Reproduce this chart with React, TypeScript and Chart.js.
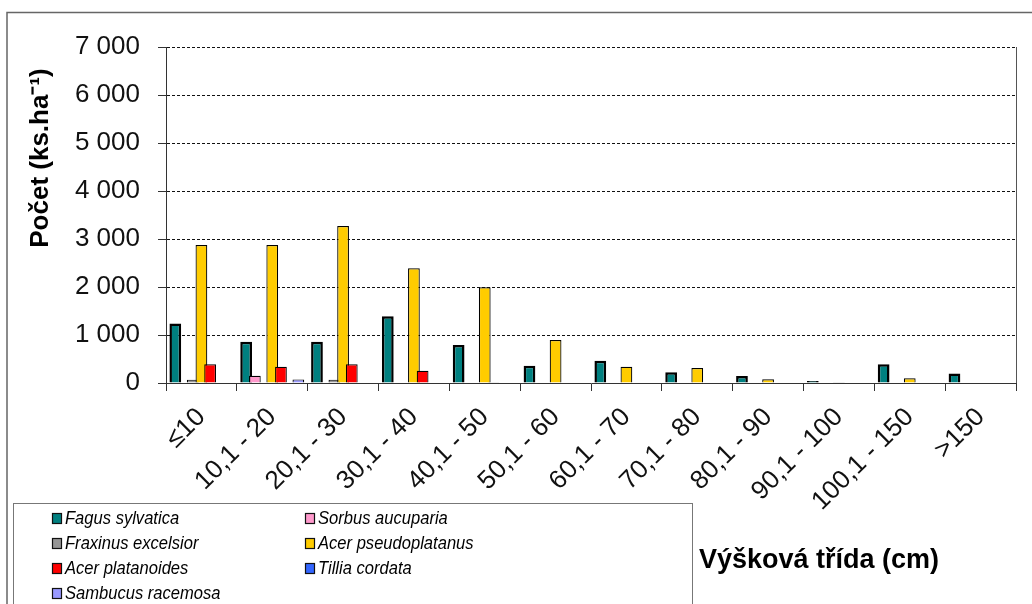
import React, { useEffect, useRef } from "react";
import { Chart, registerables } from "chart.js";

Chart.register(...registerables);

const categories = [
  "≤10", "10,1 - 20", "20,1 - 30", "30,1 - 40", "40,1 - 50", "50,1 - 60",
  "60,1 - 70", "70,1 - 80", "80,1 - 90", "90,1 - 100", "100,1 - 150", ">150",
];

const fagusSylvatica = [1240, 860, 860, 1390, 790, 360, 465, 225, 145, 40, 390, 200];
const sorbusAucuparia = [null, 150, null, null, null, null, null, null, null, null, null, null];
const fraxinusExcelsior = [70, null, 70, null, null, null, null, null, null, null, null, null];
const acerPseudoplatanus = [2875, 2875, 3270, 2390, 1995, 895, 340, 312, 77, 15, 98, null];
const acerPlatanoides = [390, 340, 390, 256, 15, null, null, null, null, null, null, null];
const tilliaCordata = [12, 12, null, null, null, null, null, null, null, null, null, null];
const sambucusRacemosa = [null, 75, null, 12, null, null, null, null, null, null, null, null];

const seriesNames = [
  "Fagus sylvatica", "Sorbus aucuparia", "Fraxinus excelsior", "Acer pseudoplatanus",
  "Acer platanoides", "Tillia cordata", "Sambucus racemosa",
];
const seriesColors = ["#008080", "#FF99CC", "#969696", "#FFCC00", "#FF0000", "#3366FF", "#9999FF"];

const yMax = 7000;
const yStep = 1000;
const yTitle = "Počet (ks.ha⁻¹)";
const xTitle = "Výšková třída (cm)";

const FONT = '"Liberation Sans", Arial, sans-serif';

const formatThousands = (v: number) =>
  String(v).replace(/\B(?=(\d{3})+(?!\d))/g, " ");

// draw datasets in series order so later series sit on top (as in the original)
const forwardOrderPlugin = {
  id: "forwardOrder",
  beforeDatasetsDraw(chart: any) {
    const metas = chart.getSortedVisibleDatasetMetas();
    for (const m of metas) m.controller.draw();
    return false;
  },
};

const decorPlugin = {
  id: "decor",
  afterDraw(chart: any) {
    const ctx = chart.ctx as CanvasRenderingContext2D;
    const a = chart.chartArea;
    ctx.save();
    // plot area right border
    ctx.strokeStyle = "#555";
    ctx.lineWidth = 1;
    ctx.beginPath();
    const rx = Math.round(a.right) + 0.5;
    ctx.moveTo(rx, a.top);
    ctx.lineTo(rx, a.bottom);
    ctx.stroke();
    // outer frame
    ctx.strokeStyle = "#666";
    ctx.lineWidth = 1.5;
    ctx.strokeRect(7, 12.5, 1040, 640);
    // legend box
    ctx.strokeStyle = "#777";
    ctx.lineWidth = 1;
    ctx.strokeRect(13.5, 503.5, 679, 140);
    // legend items
    const colMarkerX = [52, 305];
    const colTextX = [65, 318];
    const rowY = [518, 543, 568, 593];
    ctx.textBaseline = "middle";
    ctx.textAlign = "left";
    seriesNames.forEach((name, i) => {
      const col = i % 2;
      const row = Math.floor(i / 2);
      const y = rowY[row];
      ctx.fillStyle = seriesColors[i];
      ctx.fillRect(colMarkerX[col], y - 5, 9, 10);
      ctx.strokeStyle = "#111";
      ctx.lineWidth = 1.2;
      ctx.strokeRect(colMarkerX[col] + 0.5, y - 4.5, 9, 10);
      ctx.save();
      ctx.translate(colTextX[col], y + 1);
      ctx.scale(0.92, 1);
      ctx.font = `italic 18px ${FONT}`;
      ctx.fillStyle = "#000";
      ctx.fillText(name, 0, 0);
      ctx.restore();
    });
    // x axis title
    ctx.font = `bold 27px ${FONT}`;
    ctx.fillStyle = "#000";
    ctx.textBaseline = "middle";
    ctx.textAlign = "left";
    ctx.fillText(xTitle, 699, 561);
    // y axis title
    ctx.save();
    ctx.translate(41, 158);
    ctx.rotate(-Math.PI / 2);
    ctx.font = `bold 26px ${FONT}`;
    ctx.textAlign = "center";
    ctx.textBaseline = "middle";
    ctx.fillText(yTitle, 0, 0);
    ctx.restore();
    ctx.restore();
  },
};

export default function App() {
  const canvasRef = useRef<HTMLCanvasElement | null>(null);

  useEffect(() => {
    if (!canvasRef.current) return;
    const data = [
      fagusSylvatica, sorbusAucuparia, fraxinusExcelsior, acerPseudoplatanus,
      acerPlatanoides, tilliaCordata, sambucusRacemosa,
    ];
    const chart = new Chart(canvasRef.current, {
      type: "bar",
      data: {
        labels: categories,
        datasets: data.map((d, i) => ({
          label: seriesNames[i],
          data: d,
          backgroundColor: seriesColors[i],
          borderColor: "#000",
          borderWidth: i === 0 ? 2.5 : 1.2,
          categoryPercentage: 0.86,
          barPercentage: 1.35,
        })),
      },
      plugins: [forwardOrderPlugin, decorPlugin],
      options: {
        animation: false,
        responsive: false,
        devicePixelRatio: 1,
        layout: { padding: { top: 47, right: 16, left: 0, bottom: 0 } },
        plugins: {
          legend: { display: false },
          tooltip: { enabled: false },
        },
        scales: {
          x: {
            grid: {
              display: true,
              drawOnChartArea: false,
              drawTicks: true,
              tickLength: 8,
              color: "#333",
              offset: true,
            },
            border: { display: true, color: "#333", width: 1 },
            ticks: {
              font: { size: 26, family: FONT },
              color: "#111",
              minRotation: 45,
              maxRotation: 45,
              autoSkip: false,
              padding: 11,
            },
            afterFit: (s: any) => {
              s.height = 221;
            },
          },
          y: {
            min: 0,
            max: yMax,
            ticks: {
              stepSize: yStep,
              font: { size: 26, family: FONT },
              color: "#111",
              padding: 18,
              callback: (v: any) => formatThousands(Number(v)),
            },
            grid: { color: "#111", tickLength: 8, tickColor: "#333", lineWidth: 1 },
            border: { display: true, color: "#333", width: 1, dash: [3, 2] },
            title: { display: false },
            afterFit: (s: any) => {
              s.width = 166;
            },
          },
        },
      },
    } as any);
    return () => chart.destroy();
  }, []);

  return (
    <div style={{ position: "fixed", left: 0, top: 0, width: 1032, height: 604, background: "#fff" }}>
      <canvas ref={canvasRef} width={1032} height={604} style={{ width: 1032, height: 604 }} />
    </div>
  );
}
